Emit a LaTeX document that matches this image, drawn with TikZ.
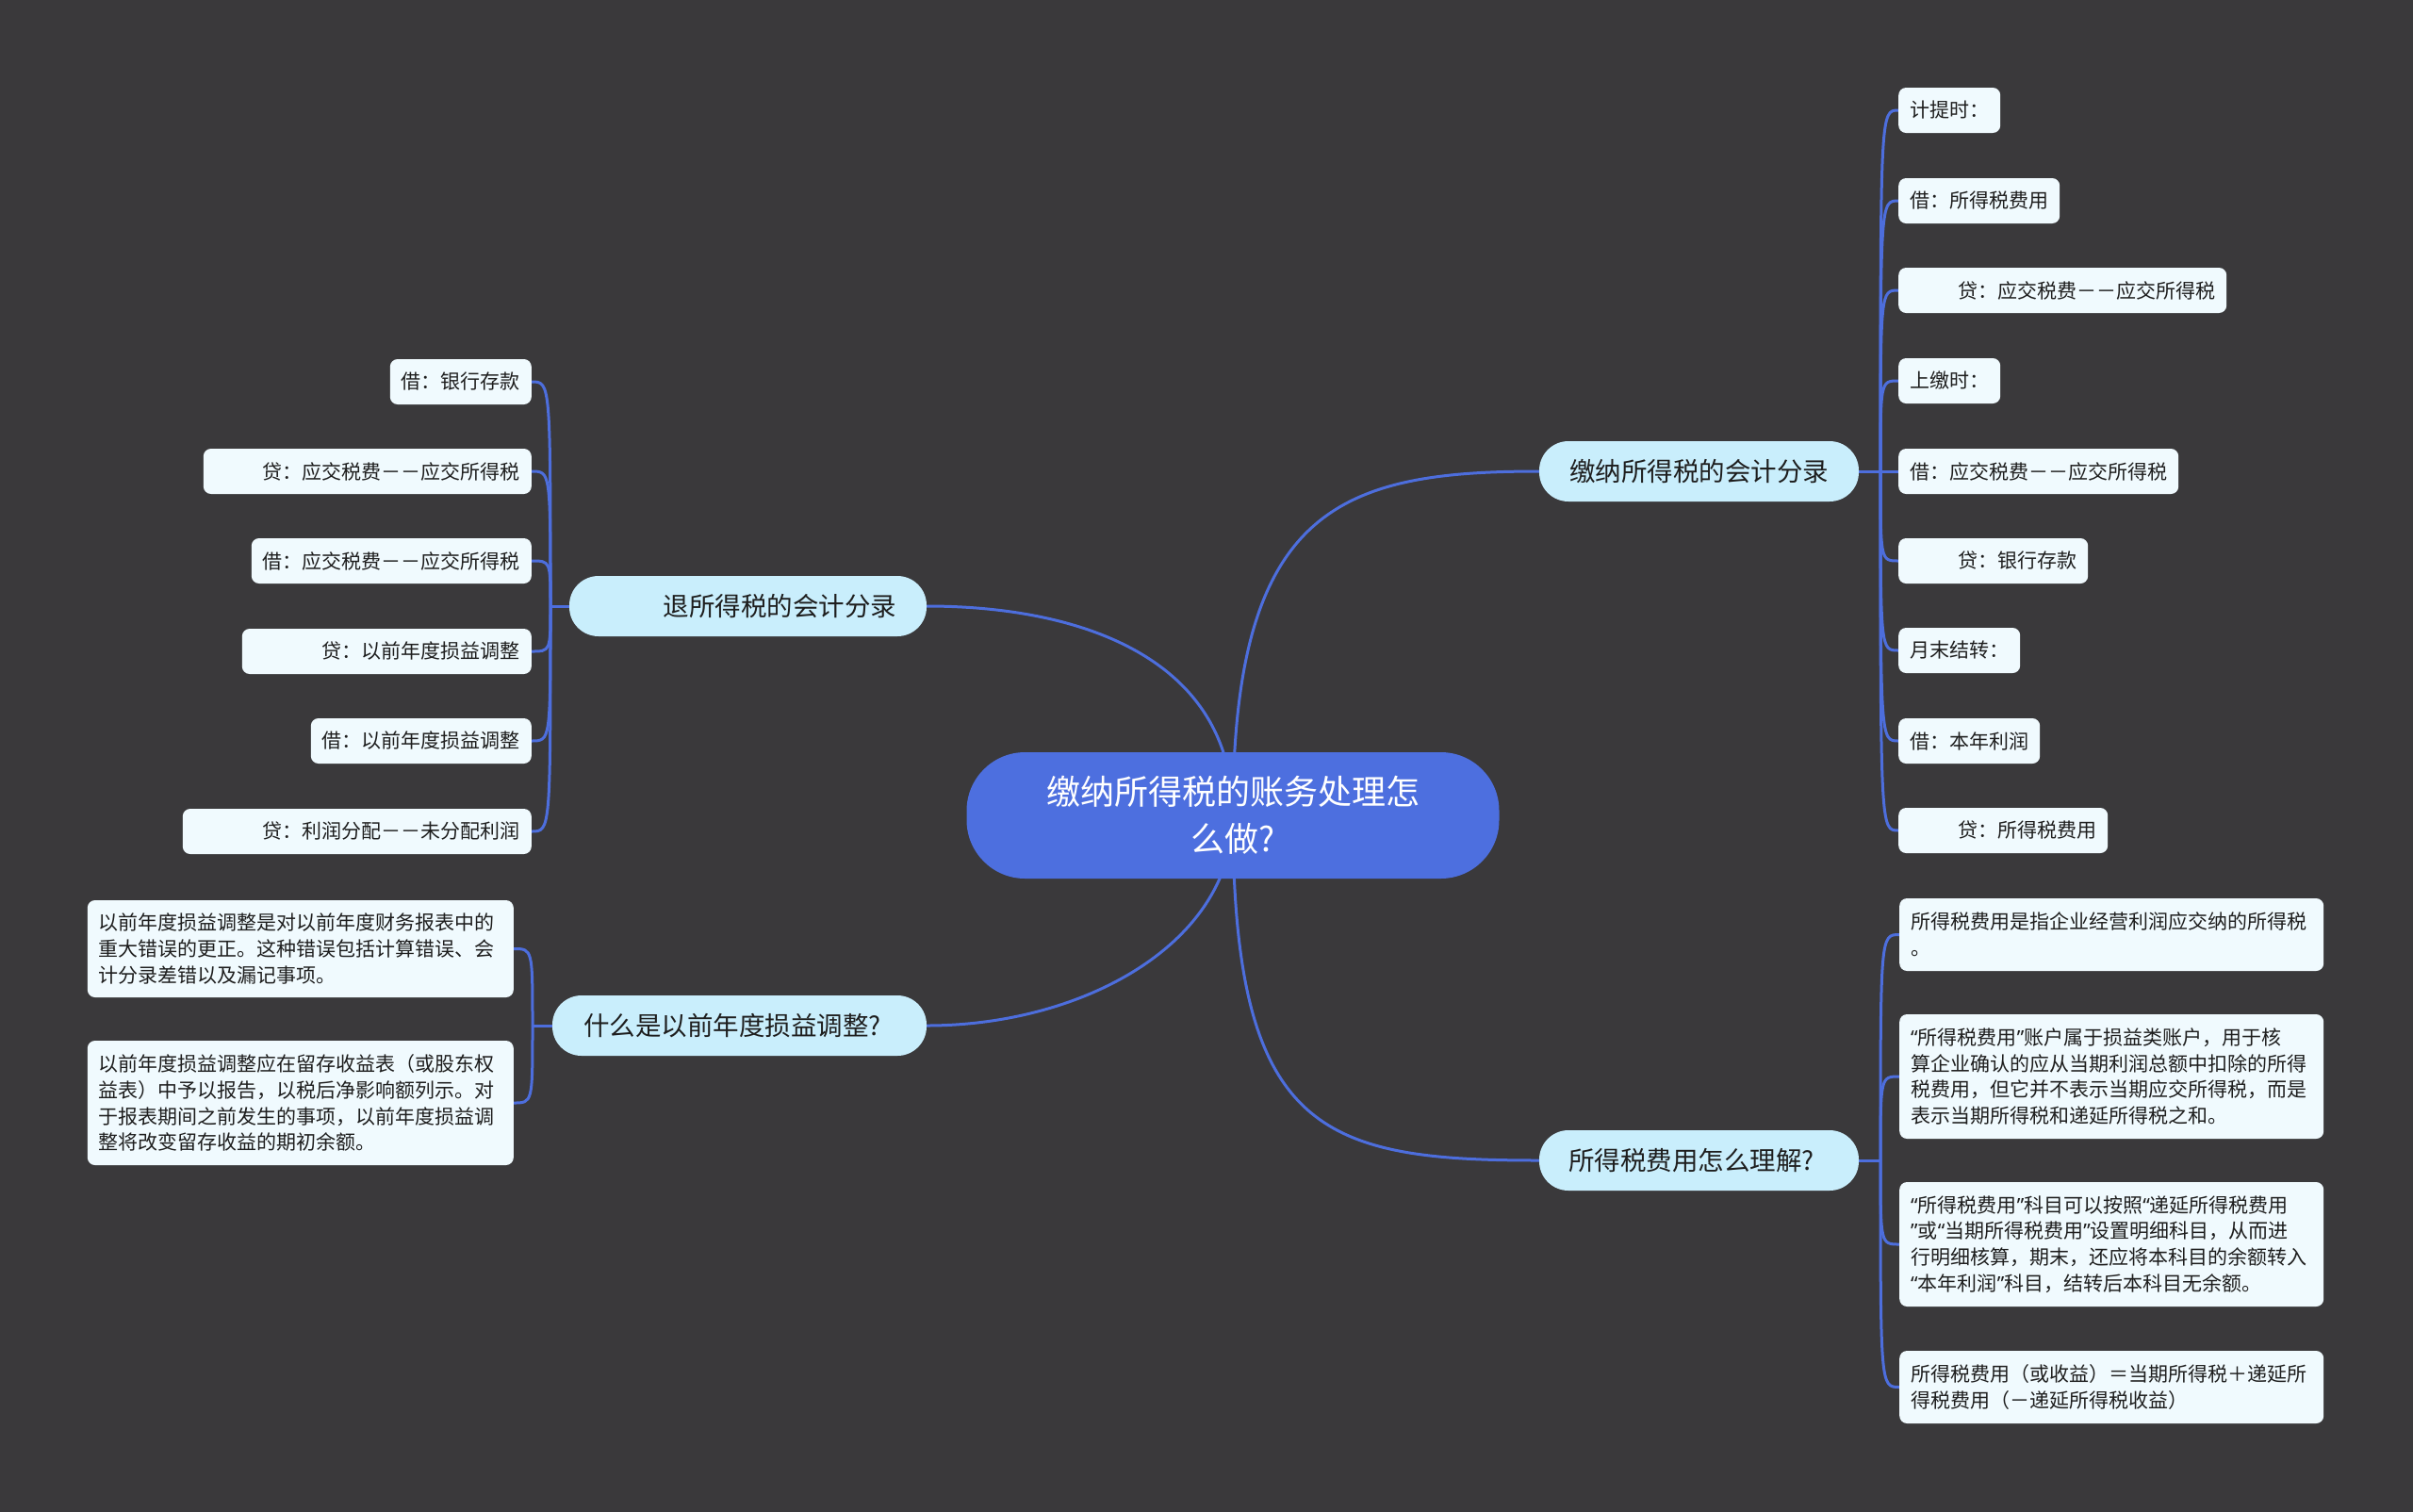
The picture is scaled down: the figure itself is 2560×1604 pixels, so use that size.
\documentclass[tikz,border=0pt]{standalone}
\usepackage{fontspec}
\setmainfont{Noto Sans CJK SC}
\newfontfamily\qfont{Noto Sans}
\newcommand\myql{{\qfont “}}
\newcommand\myqr{{\qfont ”}}
\usetikzlibrary{backgrounds}
\definecolor{bgc}{HTML}{3A393B}
\definecolor{cblue}{HTML}{4D6FDF}
\definecolor{lblue}{HTML}{C9EEFC}
\definecolor{leaffill}{HTML}{F0FAFE}
\definecolor{linkblue}{HTML}{4D6EDD}
\definecolor{txt}{HTML}{1E1E1E}
\begin{document}
\begin{tikzpicture}[x=1pt,y=-1pt,
  central/.style={fill=cblue, text=white, rounded corners=62pt, minimum width=565pt, minimum height=134pt, font=\fontsize{36}{50}\selectfont, align=center, inner sep=0pt},
  lvl/.style={fill=lblue, text=txt, rounded corners=31pt, minimum height=64pt, font=\fontsize{27.5}{33}\selectfont, inner ysep=0pt},
  leaf/.style={fill=leaffill, text=txt, rounded corners=8pt, font=\fontsize{21}{27.8}\selectfont, inner xsep=12pt, inner ysep=0pt, minimum height=48pt},
  link/.style={draw=linkblue, line width=3pt}
]
\useasboundingbox (0,0) rectangle (2560,1604);
% central
\node[central] (c) at (1308,865) {缴纳所得税的账务处理怎\\么做?};
% level 1
\node[lvl, text width=277pt, inner xsep=31pt, align=center] (r1) at (1802.5,500) {缴纳所得税的会计分录};
\node[lvl, text width=277pt, inner xsep=31pt, align=left] (r2) at (1802.5,1231) {所得税费用怎么理解?};
\node[lvl, text width=315pt, inner xsep=32pt, align=right] (l1) at (793.5,643) {退所得税的会计分录};
\node[lvl, text width=331pt, inner xsep=33pt, align=left] (l2) at (784.5,1088) {什么是以前年度损益调整?};
% right top leaves
\node[leaf, anchor=west] (a1) at (2014,117) {计提时：};
\node[leaf, anchor=west] (a2) at (2014,213) {借：所得税费用};
\node[leaf, anchor=west] (a3) at (2014,308) {\hspace*{51pt}贷：应交税费－－应交所得税};
\node[leaf, anchor=west] (a4) at (2014,404) {上缴时：};
\node[leaf, anchor=west] (a5) at (2014,500) {借：应交税费－－应交所得税};
\node[leaf, anchor=west] (a6) at (2014,595) {\hspace*{51pt}贷：银行存款};
\node[leaf, anchor=west] (a7) at (2014,690) {月末结转：};
\node[leaf, anchor=west] (a8) at (2014,786) {借：本年利润};
\node[leaf, anchor=west] (a9) at (2014,881) {\hspace*{51pt}贷：所得税费用};
% right bottom leaves
\node[leaf, anchor=west, text width=426pt, align=left, minimum height=77pt] (b1) at (2015,991.5) {所得税费用是指企业经营利润应交纳的所得税\\。};
\node[leaf, anchor=west, text width=426pt, align=left, minimum height=132pt] (b2) at (2015,1142) {\myql 所得税费用\myqr 账户属于损益类账户，用于核\\算企业确认的应从当期利润总额中扣除的所得\\税费用，但它并不表示当期应交所得税，而是\\表示当期所得税和递延所得税之和。};
\node[leaf, anchor=west, text width=426pt, align=left, minimum height=132pt] (b3) at (2015,1320) {\myql 所得税费用\myqr 科目可以按照\myql 递延所得税费用\\\myqr 或\myql 当期所得税费用\myqr 设置明细科目，从而进\\行明细核算，期末，还应将本科目的余额转入\\\myql 本年利润\myqr 科目，结转后本科目无余额。};
\node[leaf, anchor=west, text width=426pt, align=left, minimum height=77pt] (b4) at (2015,1471.5) {所得税费用（或收益）＝当期所得税＋递延所\\得税费用（－递延所得税收益）};
% left top leaves
\node[leaf, anchor=east] (d1) at (564,405) {借：银行存款};
\node[leaf, anchor=east] (d2) at (564,500) {\hspace*{51pt}贷：应交税费－－应交所得税};
\node[leaf, anchor=east] (d3) at (564,595) {借：应交税费－－应交所得税};
\node[leaf, anchor=east] (d4) at (564,691) {\hspace*{73pt}贷：以前年度损益调整};
\node[leaf, anchor=east] (d5) at (564,786) {借：以前年度损益调整};
\node[leaf, anchor=east] (d6) at (564,882) {\hspace*{73pt}贷：利润分配－－未分配利润};
% left bottom leaves
\node[leaf, anchor=east, text width=428pt, align=left, minimum height=103pt] (e1) at (545,1006.5) {以前年度损益调整是对以前年度财务报表中的\\重大错误的更正。这种错误包括计算错误、会\\计分录差错以及漏记事项。};
\node[leaf, anchor=east, text width=428pt, align=left, minimum height=132pt] (e2) at (545,1170) {以前年度损益调整应在留存收益表（或股东权\\益表）中予以报告，以税后净影响额列示。对\\于报表期间之前发生的事项，以前年度损益调\\整将改变留存收益的期初余额。};
% junctions
\coordinate (jr1) at (1995,500);
\coordinate (jr2) at (1995,1231);
\coordinate (jl1) at (584,643);
\coordinate (jl2) at (565,1088);
\begin{scope}[on background layer]
\fill[bgc] (0,0) rectangle (2560,1604);
\draw[link] (c.center) .. controls (1308,540) and (1420,500) .. (r1.west);
\draw[link] (c.center) .. controls (1308,700) and (1150,643) .. (l1.east);
\draw[link] (c.center) .. controls (1308,1000) and (1150,1088) .. (l2.east);
\draw[link] (c.center) .. controls (1308,1200) and (1400,1231) .. (r2.west);
\draw[link] (r1.east) -- (jr1);
\draw[link] (r2.east) -- (jr2);
\draw[link] (l1.west) -- (jl1);
\draw[link] (l2.west) -- (jl2);
\foreach \n in {a1,a2,a3,a4,a5,a6,a7,a8,a9}
  \draw[link] (jr1) .. controls (jr1 |- \n.west) and (jr1 |- \n.west) .. (\n.west);
\foreach \n in {b1,b2,b3,b4}
  \draw[link] (jr2) .. controls (jr2 |- \n.west) and (jr2 |- \n.west) .. (\n.west);
\foreach \n in {d1,d2,d3,d4,d5,d6}
  \draw[link] (jl1) .. controls (jl1 |- \n.east) and (jl1 |- \n.east) .. (\n.east);
\foreach \n in {e1,e2}
  \draw[link] (jl2) .. controls (jl2 |- \n.east) and (jl2 |- \n.east) .. (\n.east);
\end{scope}
\end{tikzpicture}
\end{document}
